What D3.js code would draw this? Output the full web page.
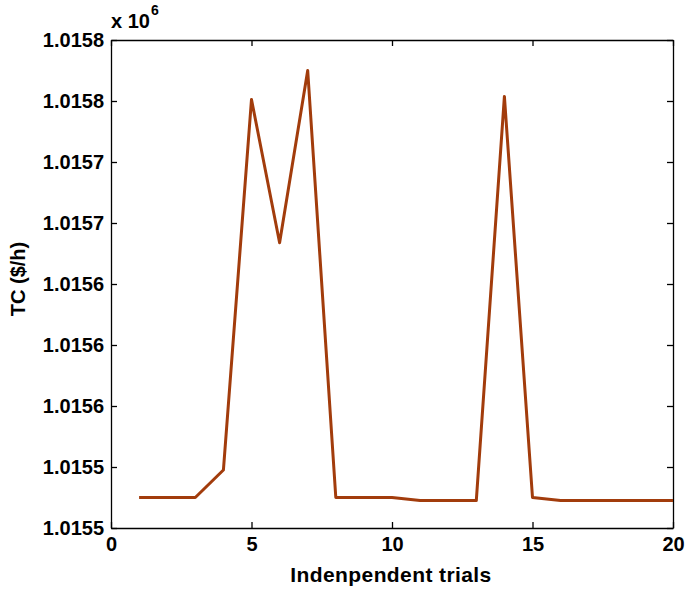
<!DOCTYPE html>
<html lang="en">
  <head>
    <meta charset="UTF-8" />
    <title>TC trials</title>
    <script src="https://d3js.org/d3.v7.min.js"></script>
    <style>
      body { margin: 0; background: #fff; }
      text { font-family: "Liberation Sans", Arial, Helvetica, sans-serif; font-weight: bold; fill: #000; }
      .axis path, .axis line { stroke: #000; stroke-width: 1.3; }
    </style>
  </head>
  <body>
    <svg width="689" height="589"></svg>
    <script>
      // data (TC in $/h)
      var trials = [1, 2, 3, 4, 5, 6, 7, 8, 9, 10, 11, 12, 13, 14, 15, 16, 17, 18, 19, 20];
      var tcValues = [1015500, 1015500, 1015500, 1015518, 1015761, 1015667, 1015780, 1015500, 1015500, 1015500,
                      1015498, 1015498, 1015498, 1015763, 1015500, 1015498, 1015498, 1015498, 1015498, 1015498];
      var xTicks = [0, 5, 10, 15, 20];
      var yTicks = [1015480, 1015520, 1015560, 1015600, 1015640, 1015680, 1015720, 1015760, 1015800];

      var svg = d3.select("svg"),
        mLeft = 111, mRight = 673, mTop = 40, mBottom = 528;

      var x = d3.scaleLinear().domain([0, 20]).range([mLeft, mRight]);
      var y = d3.scaleLinear().domain([1015480, 1015800]).range([mBottom, mTop]);

      svg.append("g").attr("class", "axis")
        .attr("transform", "translate(0," + mBottom + ")")
        .call(d3.axisBottom(x).tickValues(xTicks).tickSizeInner(-6).tickSizeOuter(0).tickPadding(9))
        .selectAll("text").attr("font-size", "20px");

      svg.append("g").attr("class", "axis")
        .attr("transform", "translate(" + mLeft + ",0)")
        .call(d3.axisLeft(y).tickValues(yTicks).tickSizeInner(-6).tickSizeOuter(0).tickPadding(7)
          .tickFormat(function (d) { return (d / 1e6).toFixed(4); }))
        .selectAll("text").attr("font-size", "20px");

      svg.append("g").attr("class", "axis")
        .attr("transform", "translate(0," + mTop + ")")
        .call(d3.axisTop(x).tickValues(xTicks).tickSizeInner(-6).tickSizeOuter(0).tickFormat(""));

      svg.append("g").attr("class", "axis")
        .attr("transform", "translate(" + mRight + ",0)")
        .call(d3.axisRight(y).tickValues(yTicks).tickSizeInner(-6).tickSizeOuter(0).tickFormat(""));

      var line = d3.line()
        .x(function (d, i) { return x(trials[i]); })
        .y(function (d) { return y(d); });

      svg.append("path")
        .datum(tcValues)
        .attr("fill", "none")
        .attr("stroke", "#a23c0c")
        .attr("stroke-width", 3)
        .attr("stroke-linejoin", "round")
        .attr("d", line);

      // exponent label
      var ex = svg.append("text").attr("x", 111).attr("y", 28).attr("font-size", "20px");
      ex.append("tspan").text("x 10");
      ex.append("tspan").attr("dx", 1).attr("dy", -13).attr("font-size", "14px").text("6");

      svg.append("text")
        .attr("x", 391).attr("y", 582)
        .attr("text-anchor", "middle").attr("font-size", "21px")
        .attr("letter-spacing", "0.4px")
        .text("Indenpendent trials");

      svg.append("text")
        .attr("transform", "translate(25,279) rotate(-90)")
        .attr("text-anchor", "middle").attr("font-size", "20px")
        .text("TC ($/h)");
    </script>
  </body>
</html>
